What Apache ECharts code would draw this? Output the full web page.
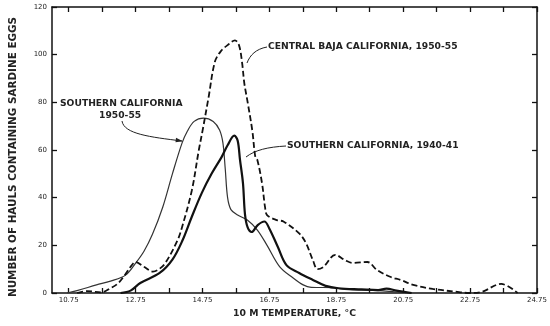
<!DOCTYPE html>
<html><head><meta charset="utf-8">
<script src="https://cdn.jsdelivr.net/npm/echarts@6/dist/echarts.min.js"></script>
<style>html,body{margin:0;padding:0;background:#fff}#c{width:550px;height:326px}</style>
</head><body><div id="c"></div>
<script>
// Temperature (°C) and number of hauls containing sardine eggs
const socal5055T = [10.7,11.0,11.58,12.0,12.45,12.75,13.0,13.25,13.56,13.85,14.14,14.3,14.5,14.78,15.07,15.26,15.36,15.43,15.5,15.6,15.8,16.09,16.39,16.68,17.06,17.46,17.76,18.0,18.7,19.0,20.0,20.5,21.0];
const socal5055V = [0,1,3.4,5,7.5,12.5,17.5,24.5,36,50,63,68,72,73.4,72,68.4,63,52,40,35,32.7,30.6,26.4,20,11,6.3,3.4,2.4,2.2,1.5,1,0.5,0];

const baja5055T = [11.0,11.3,11.72,12.0,12.22,12.45,12.6,12.75,13.0,13.27,13.45,13.64,14.0,14.14,14.43,14.64,14.75,14.93,15.12,15.3,15.5,15.72,15.84,15.93,16.0,16.1,16.24,16.33,16.39,16.53,16.62,16.68,16.97,17.17,17.64,17.84,18.05,18.19,18.37,18.72,19.01,19.24,19.68,19.97,20.38,20.67,21.05,21.63,22.42,22.72,23.1,23.68,24.17];
const baja5055V = [0,0.8,0.3,2,4,8,11,13,11,9,10,12.6,22,27.7,43,60,68,82,97,101.5,104,106,104,97,88,80,68,57,55.8,46,36,32.7,30.6,30,25,21,13.8,10,11,16,13.8,12.6,13,9.6,6.7,5.5,3.4,1.7,0.4,0,0.5,3.8,0];

const socal4041T = [12.3,12.6,12.89,13.47,13.85,14.15,14.43,14.73,15.02,15.32,15.5,15.7,15.8,15.87,15.96,16.02,16.1,16.22,16.4,16.6,16.75,17.0,17.26,17.64,18.05,18.43,18.81,19.5,20.0,20.25,20.55,21.0];
const socal4041V = [0,1,4.2,8.4,14,22,32,42,50,57,62,66,64,56,46,33,27.5,25.6,28.5,30,27,19.4,11.7,8.4,5.5,3,2,1.5,1.2,1.8,1,0];

// half-degree steps spanning the axis; a tick is drawn on every 1 °C from 10.75
const xStepValues = ['10.25','10.75','11.25','11.75','12.25','12.75','13.25','13.75','14.25','14.75','15.25','15.75','16.25','16.75','17.25','17.75','18.25','18.75','19.25','19.75','20.25','20.75','21.25','21.75','22.25','22.75','23.25','23.75','24.25','24.75'];
const xLabelValues = [10.75,12.75,14.75,16.75,18.75,20.75,22.75,24.75];
const yTickLabels = ['0','20','40','60','80','100','120'];
const Y_MIN = 0, Y_MAX = 120;

const pairs = (T, V) => T.map((t, i) => [t, V[i]]);

const chart = echarts.init(document.getElementById('c'));
const FONT = 'DejaVu Sans';
const axisLine = {show: true, onZero: false, lineStyle: {color: '#111', width: 1.5}};
const ytick = {show: true, inside: true, length: 5, lineStyle: {color: '#111', width: 1.3}};
const xBase = {
  type: 'value', min: 10.25, max: 24.75,
  axisLine, axisTick: {show: false}, splitLine: {show: false}
};
const xTickAxis = pos => ({
  type: 'category', position: pos, boundaryGap: false, data: xStepValues,
  axisLine: {show: false, onZero: false}, axisLabel: {show: false}, splitLine: {show: false},
  axisTick: {show: true, inside: true, length: 5, interval: (i) => i % 2 === 1,
    lineStyle: {color: '#111', width: 1.3}}
});
const yBase = {
  type: 'value', min: Y_MIN, max: Y_MAX, interval: 20,
  axisLine, axisTick: ytick, splitLine: {show: false}
};
const ANN = 'bold 9.2px "DejaVu Sans"';
chart.setOption({
  animation: false,
  backgroundColor: '#fff',
  grid: {left: 49, right: 7, top: 7, bottom: 33},
  xAxis: [
    Object.assign({}, xBase, {
      position: 'bottom',
      name: '10 M TEMPERATURE, °C', nameLocation: 'middle', nameGap: 14,
      nameTextStyle: {fontFamily: FONT, fontSize: 9.3, fontWeight: 'bold', color: '#222'},
      axisLabel: {
        show: true, margin: 4, fontFamily: FONT, fontSize: 7, color: '#222',
        customValues: xLabelValues, formatter: v => v.toFixed(2)
      }
    }),
    Object.assign({}, xBase, {position: 'top', axisLabel: {show: false}}),
    xTickAxis('bottom'),
    xTickAxis('top')
  ],
  yAxis: [
    Object.assign({}, yBase, {
      position: 'left',
      name: 'NUMBER OF HAULS CONTAINING SARDINE EGGS', nameLocation: 'middle', nameGap: 34, nameRotate: 90,
      nameTextStyle: {fontFamily: FONT, fontSize: 10.4, fontWeight: 'bold', color: '#222', padding: [0, 14, 0, 0]},
      axisLabel: {show: true, margin: 5, fontFamily: FONT, fontSize: 7, color: '#222',
        formatter: v => yTickLabels[Math.round(v / 20)] || ''}
    }),
    Object.assign({}, yBase, {position: 'right', axisLabel: {show: false}})
  ],
  series: [
    {type: 'line', name: 'Southern California 1950-55', data: pairs(socal5055T, socal5055V),
      xAxisIndex: 0, yAxisIndex: 0,
      smooth: 0.35, showSymbol: false, lineStyle: {color: '#333', width: 1.2}},
    {type: 'line', name: 'Central Baja California 1950-55', data: pairs(baja5055T, baja5055V),
      xAxisIndex: 0, yAxisIndex: 0,
      smooth: 0.35, showSymbol: false, lineStyle: {color: '#111', width: 1.8, type: [6, 3]}},
    {type: 'line', name: 'Southern California 1940-41', data: pairs(socal4041T, socal4041V),
      xAxisIndex: 0, yAxisIndex: 0,
      smooth: 0.35, showSymbol: false, lineStyle: {color: '#111', width: 2.2}}
  ],
  graphic: [
    {type: 'text', left: 268, top: 42, style: {text: 'CENTRAL BAJA CALIFORNIA, 1950-55', font: ANN, fill: '#222'}},
    {type: 'text', left: 60, top: 99, style: {text: 'SOUTHERN CALIFORNIA', font: ANN, fill: '#222'}},
    {type: 'text', left: 99, top: 111, style: {text: '1950-55', font: ANN, fill: '#222'}},
    {type: 'text', left: 287, top: 141, style: {text: 'SOUTHERN CALIFORNIA, 1940-41', font: ANN, fill: '#222'}},
    {type: 'bezierCurve', shape: {x1: 267, y1: 47, cpx1: 256, cpy1: 49, cpx2: 250, cpy2: 55, x2: 247, y2: 63},
      style: {stroke: '#222', lineWidth: 1, fill: null}},
    {type: 'bezierCurve', shape: {x1: 122, y1: 121, cpx1: 124, cpy1: 134, cpx2: 150, cpy2: 137, x2: 182, y2: 141},
      style: {stroke: '#222', lineWidth: 1, fill: null}},
    {type: 'polygon', shape: {points: [[183, 141.2], [176, 137.8], [175.5, 142.3]]}, style: {fill: '#222'}},
    {type: 'bezierCurve', shape: {x1: 286, y1: 146, cpx1: 268, cpy1: 147, cpx2: 255, cpy2: 150, x2: 246, y2: 157},
      style: {stroke: '#222', lineWidth: 1, fill: null}}
  ]
});
</script></body></html>
